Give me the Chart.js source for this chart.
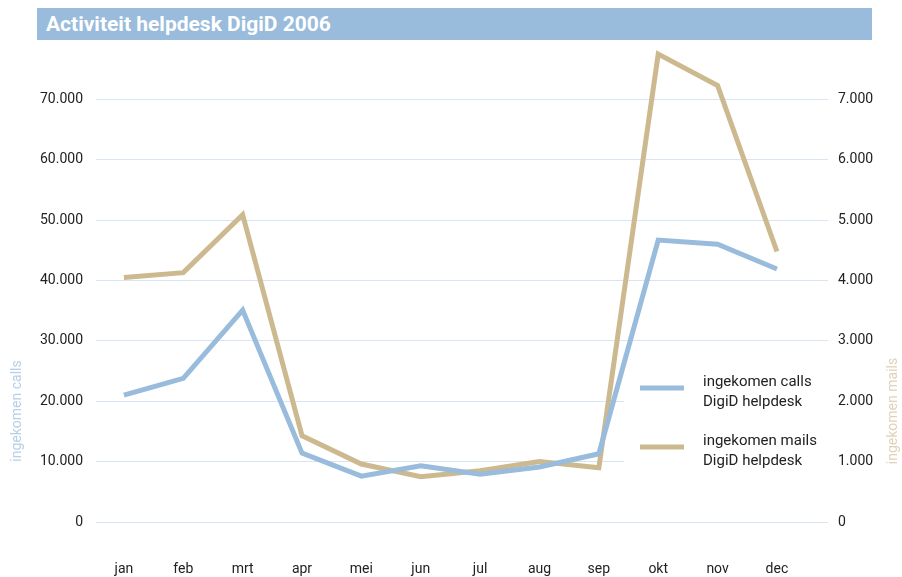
<!DOCTYPE html>
<html>
<head>
<meta charset="utf-8">
<script src="https://cdn.jsdelivr.net/npm/chart.js@4"></script>
<style>
  html, body { margin: 0; padding: 0; background: #fff; }
  #wrap { position: relative; width: 902px; height: 577px; }
  #titleBar {
    position: absolute; left: 37px; top: 8px; width: 835px; height: 32px;
    background: #99bbdc; color: #fff; font: bold 21px Roboto, sans-serif;
    line-height: 32px; padding-left: 9px; box-sizing: border-box;
  }
</style>
</head>
<body>
<div id="wrap">
  <canvas id="chart" width="902" height="577"></canvas>
  <div id="titleBar">Activiteit helpdesk DigiD 2006</div>
</div>
<script>
// Months on the x axis
const months = ['jan', 'feb', 'mrt', 'apr', 'mei', 'jun', 'jul', 'aug', 'sep', 'okt', 'nov', 'dec'];
// Incoming calls (left axis)
const calls = [21000, 23800, 35100, 11400, 7600, 9300, 7900, 9100, 11300, 46700, 46000, 41900];
// Incoming mails (right axis)
const mails = [4050, 4130, 5090, 1430, 960, 750, 850, 1000, 900, 7750, 7230, 4480];
const legendLabels = [['ingekomen calls', 'DigiD helpdesk'], ['ingekomen mails', 'DigiD helpdesk']];
const axisTitles = ['ingekomen calls', 'ingekomen mails'];

const blue = '#99bbdc';
const tan = '#cdb98f';
const font = 'Roboto, sans-serif';

// 12345 -> "12.345"
function fmt(v) {
  return String(v).replace(/\B(?=(\d{3})+(?!\d))/g, '.');
}

// White box behind the legend, then legend and axis titles on top
const extras = {
  id: 'extras',
  beforeDatasetsDraw(chart) {
    const ctx = chart.ctx;
    ctx.save();
    ctx.fillStyle = '#fff';
    ctx.fillRect(624, 360, chart.chartArea.right - 624 + 1, 130);
    ctx.restore();
  },
  afterDatasetsDraw(chart) {
    const ctx = chart.ctx;
    ctx.save();
    const rows = [{ color: blue, y: 388 }, { color: tan, y: 447 }];
    rows.forEach((r, i) => {
      ctx.strokeStyle = r.color;
      ctx.lineWidth = 5;
      ctx.beginPath();
      ctx.moveTo(640, r.y);
      ctx.lineTo(684, r.y);
      ctx.stroke();
      ctx.fillStyle = '#222';
      ctx.font = '15px ' + font;
      ctx.textBaseline = 'middle';
      ctx.fillText(legendLabels[i][0], 703, r.y - 6);
      ctx.fillText(legendLabels[i][1], 703, r.y + 14);
    });
    // rotated axis titles
    ctx.font = '14px ' + font;
    ctx.textAlign = 'center';
    ctx.textBaseline = 'middle';
    ctx.fillStyle = '#b7cfe8';
    ctx.translate(17, 411);
    ctx.rotate(-Math.PI / 2);
    ctx.fillText(axisTitles[0], 0, 0);
    ctx.setTransform(1, 0, 0, 1, 0, 0);
    ctx.fillStyle = '#dfd2b8';
    ctx.translate(893, 411);
    ctx.rotate(-Math.PI / 2);
    ctx.fillText(axisTitles[1], 0, 0);
    ctx.restore();
  }
};

new Chart(document.getElementById('chart'), {
  type: 'line',
  data: {
    datasets: [{
      label: 'ingekomen calls DigiD helpdesk',
      data: calls.map((v, i) => ({ x: i, y: v })),
      borderColor: blue,
      borderWidth: 5,
      pointRadius: 0,
      tension: 0,
      yAxisID: 'y'
    }, {
      label: 'ingekomen mails DigiD helpdesk',
      data: mails.map((v, i) => ({ x: i, y: v })),
      borderColor: tan,
      borderWidth: 5,
      pointRadius: 0,
      tension: 0,
      yAxisID: 'y1'
    }]
  },
  options: {
    responsive: false,
    animation: false,
    layout: { padding: { top: 39, left: 0, right: 0, bottom: 0 } },
    plugins: { legend: { display: false }, tooltip: { enabled: false } },
    scales: {
      x: {
        type: 'linear',
        min: -0.47,
        max: 11.86,
        grid: { display: false },
        border: { display: false },
        ticks: {
          stepSize: 1,
          includeBounds: false,
          autoSkip: false,
          maxRotation: 0,
          padding: 31,
          color: '#222',
          font: { family: font, size: 14 },
          callback: v => months[v] || ''
        },
        afterFit: s => { s.height = 55; }
      },
      y: {
        position: 'left',
        min: 0,
        max: 80000,
        grid: {
          color: c => c.tick.value > 70000 ? 'rgba(0,0,0,0)' : '#d8e4f1',
          lineWidth: 1,
          drawTicks: false
        },
        border: { display: false },
        ticks: {
          stepSize: 10000,
          padding: 13,
          color: '#222',
          font: { family: font, size: 14 },
          callback: v => v > 70000 ? '' : fmt(v)
        },
        afterFit: s => { s.width = 96; }
      },
      y1: {
        position: 'right',
        min: 0,
        max: 8000,
        grid: { display: false, drawTicks: false },
        border: { display: false },
        ticks: {
          stepSize: 1000,
          padding: 10,
          color: '#222',
          font: { family: font, size: 14 },
          callback: v => v > 7000 ? '' : fmt(v)
        },
        afterFit: s => { s.width = 74; }
      }
    }
  },
  plugins: [extras]
});
</script>
</body>
</html>
